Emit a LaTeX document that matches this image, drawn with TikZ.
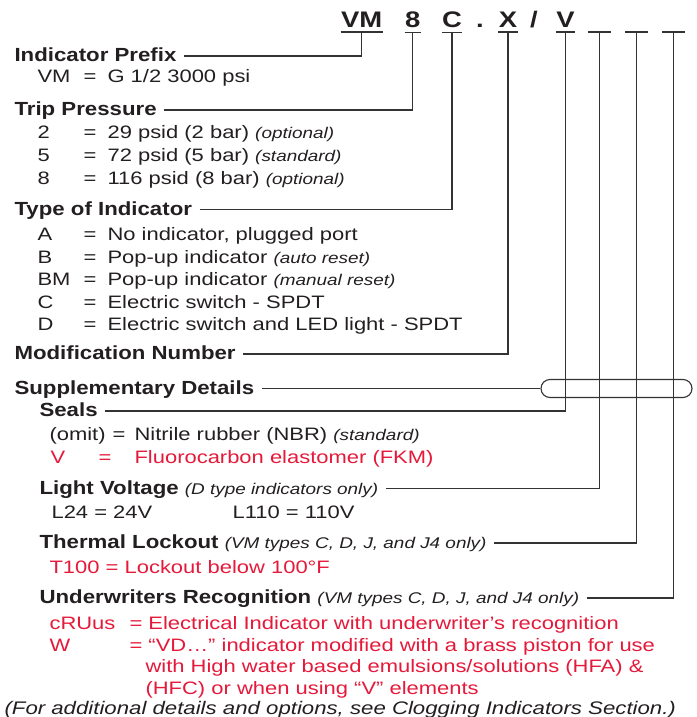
\documentclass[tikz,border=0pt]{standalone}
\usepackage{fontspec}
\setmainfont{Liberation Sans}[FakeStretch=1.22]
\newfontfamily\headfont{Liberation Sans}[FakeStretch=1.17]
\usetikzlibrary{positioning, shapes.misc}
\definecolor{cink}{HTML}{231F20}
\definecolor{cline}{HTML}{333333}
\definecolor{cred}{HTML}{E5193A}
\newcommand{\aside}[1]{{\fontsize{15.5}{17}\selectfont\rmfamily\mdseries\itshape #1}}
\tikzset{
  every picture/.style={line width=1.1pt},
  head/.style={font=\fontsize{19}{21}\selectfont\headfont\bfseries, text=cink, inner sep=0pt, anchor=base west},
  item/.style={font=\fontsize{18}{20}\selectfont, text=cink, inner sep=0pt, anchor=base west},
  redtext/.style={text=cred},
  code/.style={font=\fontsize{22.5}{24}\selectfont\bfseries, text=cink, inner xsep=0pt, inner ysep=3.5pt, anchor=base},
  slot/.style={code, minimum width=22pt},
  lead/.style={draw=cline, line width=1.1pt},
}
\begin{document}
\begin{tikzpicture}[x=1pt, y=-1pt,
  bus/.style={lead, rounded rectangle, minimum width=151pt, minimum height=18pt, inner sep=0pt}]
  \useasboundingbox (0,0) rectangle (696,717);
  \node[code] (cVM) at (361.7,28) {VM};
  \node[code] (c8) at (412.7,28) {8};
  \node[code] (cC) at (452,28) {C};
  \node[code] (cdot) at (480,28) {.};
  \node[code] (cX) at (508,28) {X};
  \node[code] (cslash) at (534,28) {/};
  \node[code] (cV) at (565.5,28) {V};
  \node[slot] (cL) at (599.5,28) {};
  \node[slot] (cT) at (636.5,28) {};
  \node[slot] (cU) at (673.5,28) {};
  \foreach \c in {cVM,c8,cC,cX,cV,cL,cT,cU} \draw[lead] (\c.south west) -- (\c.south east);

  \node[head] (prefix) at (14,61.5) {Indicator Prefix};
  \node[item] (vmcode) at (37,82) {VM};
  \node[item] (vmeq) at (83,82) {=};
  \node[item] (vmval) at (107,82) {G 1/2 3000 psi};

  \node[head] (trip) at (14,115.5) {Trip Pressure};
  \foreach \y/\k/\v [count=\i] in {138/2/{29 psid (2 bar) \aside{(optional)}},
      161/5/{72 psid (5 bar) \aside{(standard)}}, 184/8/{116 psid (8 bar) \aside{(optional)}}} {
    \node[item] (tpcode\i) at (37,\y) {\k};
    \node[item] (tpeq\i) at (83,\y) {=};
    \node[item] (tpval\i) at (107,\y) {\v};
  }

  \node[head] (type) at (14,215) {Type of Indicator};
  \foreach \y/\k/\v [count=\i] in {240/A/{No indicator, plugged port},
      263/B/{Pop-up indicator \aside{(auto reset)}}, 285/BM/{Pop-up indicator \aside{(manual reset)}},
      308/C/{Electric switch - SPDT}, 330/D/{Electric switch and LED light - SPDT}} {
    \node[item] (tycode\i) at (37,\y) {\k};
    \node[item] (tyeq\i) at (83,\y) {=};
    \node[item] (tyval\i) at (107,\y) {\v};
  }

  \node[head] (mod) at (14,359.5) {Modification Number};
  \node[head] (supp) at (14,394) {Supplementary Details};
  \node[bus] (supbus) at (616.5,388.5) {};

  \node[head] (seals) at (39,416.5) {Seals};
  \node[item] (omit) at (49,440) {(omit)};
  \node[item] (omiteq) at (112,440) {=};
  \node[item] (omitval) at (134,440) {Nitrile rubber (NBR) \aside{(standard)}};
  \node[item, redtext] (fkm) at (50,463) {V};
  \node[item, redtext] (fkmeq) at (98,463) {=};
  \node[item, redtext] (fkmval) at (134,463) {Fluorocarbon elastomer (FKM)};

  \node[head] (light) at (39,494) {Light Voltage \aside{(D type indicators only)}};
  \node[item] (l24) at (51,518) {L24 = 24V};
  \node[item] (l110) at (232,518) {L110 = 110V};

  \node[head] (thermal) at (39,548.5) {Thermal Lockout \aside{(VM types C, D, J, and J4 only)}};
  \node[item, redtext] (t100) at (49,573) {T100 = Lockout below 100°F};

  \node[head] (ul) at (39,603.5) {Underwriters Recognition \aside{(VM types C, D, J, and J4 only)}};
  \node[item, redtext] (cru) at (49,629) {cRUus};
  \node[item, redtext] (cruval) at (129,629) {= Electrical Indicator with underwriter’s recognition};
  \node[item, redtext] (w) at (49,651) {W};
  \node[item, redtext] (wval) at (129,651) {= “VD…” indicator modified with a brass piston for use};
  \node[item, redtext] (wval2) at (145,672.5) {with High water based emulsions/solutions (HFA) \&};
  \node[item, redtext] (wval3) at (145,694) {(HFC) or when using “V” elements};

  \node[item, font=\fontsize{18.2}{20}\selectfont\itshape] (foot) at (4,714)
    {(For additional details and options, see Clogging Indicators Section.)};

  \draw[lead] ([xshift=7pt, yshift=5.5pt]prefix.base east) -| (cVM.south);
  \draw[lead] ([xshift=7pt, yshift=5.5pt]trip.base east) -| (c8.south);
  \draw[lead] ([xshift=7pt, yshift=5.5pt]type.base east) -| (cC.south);
  \draw[lead] ([xshift=7pt, yshift=5.5pt]mod.base east) -| (cX.south);
  \draw[lead] ([xshift=7pt, yshift=5.5pt]supp.base east) -- (supbus.west);
  \draw[lead] ([xshift=7pt, yshift=5.5pt]seals.base east) -| (cV.south);
  \draw[lead] ([xshift=7pt, yshift=5.5pt]light.base east) -| (cL.south);
  \draw[lead] ([xshift=7pt, yshift=5.5pt]thermal.base east) -| (cT.south);
  \draw[lead] ([xshift=7pt, yshift=5.5pt]ul.base east) -| (cU.south);
\end{tikzpicture}
\end{document}
